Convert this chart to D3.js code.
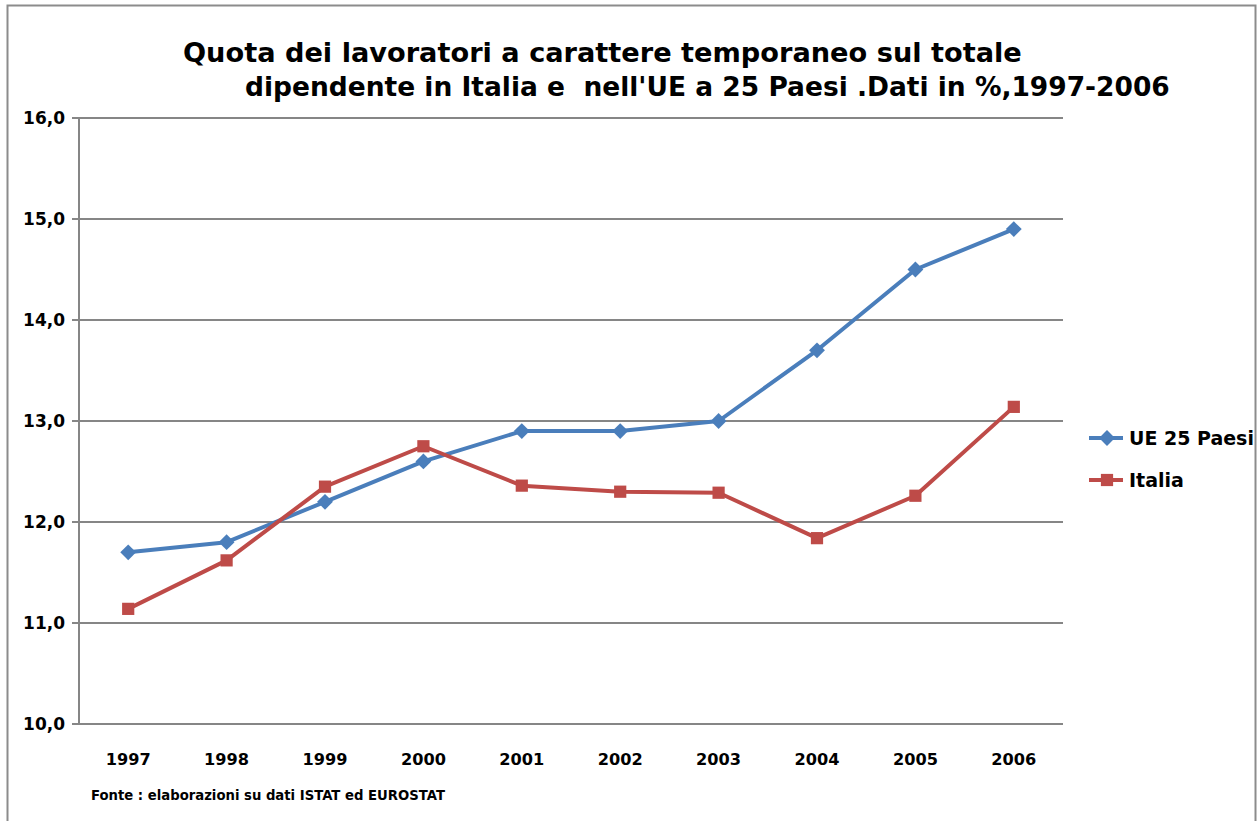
<!DOCTYPE html>
<html>
<head>
<meta charset="utf-8">
<script src="https://cdn.jsdelivr.net/npm/d3@7"></script>
<style>
  body { margin: 0; background: #fff; }
  text { font-family: "DejaVu Sans", sans-serif; font-weight: bold; fill: #000; white-space: pre; }
</style>
</head>
<body>
<svg id="chart"></svg>
<script>
// data
const years = ["1997", "1998", "1999", "2000", "2001", "2002", "2003", "2004", "2005", "2006"];
const ueValues = [11.7, 11.8, 12.2, 12.6, 12.9, 12.9, 13.0, 13.7, 14.5, 14.9];
const italiaValues = [11.14, 11.62, 12.35, 12.75, 12.36, 12.30, 12.29, 11.84, 12.26, 13.14];
const yTicks = [10, 11, 12, 13, 14, 15, 16];
const seriesNames = ["UE 25 Paesi", "Italia"];
const titleLines = ["Quota dei lavoratori a carattere temporaneo sul totale",
  "dipendente in Italia e  nell'UE a 25 Paesi .Dati in %,1997-2006"];
const source = "Fonte : elaborazioni su dati ISTAT ed EUROSTAT";

const width = 1258;
const height = 821;
const blue = "#4a7ebb";
const red = "#be4b48";

const svg = d3.select("#chart")
  .attr("width", width)
  .attr("height", height);

// scale font size so a text node spans the given width
function fitWidth(sel, target) {
  sel.each(function() {
    const node = d3.select(this);
    const size = parseFloat(node.style("font-size"));
    const w = this.getComputedTextLength();
    node.style("font-size", (size * target / w) + "px");
  });
}

// outer frame
svg.append("rect")
  .attr("x", 7.5).attr("y", 5.5)
  .attr("width", 1248).attr("height", 830)
  .attr("fill", "none")
  .attr("stroke", "#8c8c8c")
  .attr("stroke-width", 2);

// scales
const x = d3.scaleBand()
  .domain(years)
  .range([79, 1063]);

const y = d3.scaleLinear()
  .domain([10, 16])
  .range([724, 118]);

// gridlines
svg.append("g")
  .selectAll("line")
  .data(yTicks)
  .join("line")
  .attr("x1", 72)
  .attr("x2", 1063)
  .attr("y1", d => y(d))
  .attr("y2", d => y(d))
  .attr("stroke", "#868686")
  .attr("stroke-width", 2);

// y axis line
svg.append("line")
  .attr("x1", 79).attr("x2", 79)
  .attr("y1", y(16)).attr("y2", y(10))
  .attr("stroke", "#868686")
  .attr("stroke-width", 2);

// y tick labels
svg.append("g")
  .selectAll("text")
  .data(yTicks)
  .join("text")
  .attr("x", 65)
  .attr("y", d => y(d))
  .attr("dy", "0.36em")
  .attr("text-anchor", "end")
  .style("font-size", "17px")
  .text(d => d3.format(".1f")(d).replace(".", ","))
  .call(fitWidth, 42);

// x tick labels
svg.append("g")
  .selectAll("text")
  .data(years)
  .join("text")
  .attr("x", d => x(d) + x.bandwidth() / 2)
  .attr("y", 765)
  .attr("text-anchor", "middle")
  .style("font-size", "18px")
  .text(d => d)
  .call(fitWidth, 45);

// lines
const line = d3.line()
  .x((d, i) => x(years[i]) + x.bandwidth() / 2)
  .y(d => y(d));

const diamond = d3.symbol().type(d3.symbolDiamond2).size(160);
const square = d3.symbol().type(d3.symbolSquare2).size(190);

svg.append("path")
  .datum(ueValues)
  .attr("fill", "none")
  .attr("stroke", blue)
  .attr("stroke-width", 4)
  .attr("stroke-linejoin", "round")
  .attr("d", line);

svg.append("g")
  .selectAll("path")
  .data(ueValues)
  .join("path")
  .attr("transform", (d, i) => `translate(${x(years[i]) + x.bandwidth() / 2},${y(d)})`)
  .attr("fill", blue)
  .attr("d", diamond);

svg.append("path")
  .datum(italiaValues)
  .attr("fill", "none")
  .attr("stroke", red)
  .attr("stroke-width", 4)
  .attr("stroke-linejoin", "round")
  .attr("d", line);

svg.append("g")
  .selectAll("path")
  .data(italiaValues)
  .join("path")
  .attr("transform", (d, i) => `translate(${x(years[i]) + x.bandwidth() / 2},${y(d)})`)
  .attr("fill", red)
  .attr("d", square);

// title
svg.append("text")
  .attr("x", 183)
  .attr("y", 62)
  .style("font-size", "28px")
  .text(titleLines[0])
  .call(fitWidth, 839);

svg.append("text")
  .attr("x", 245)
  .attr("y", 96)
  .style("font-size", "28px")
  .text(titleLines[1])
  .call(fitWidth, 925);

// legend
const legend = svg.append("g")
  .attr("transform", "translate(1089,438)");

const legendItems = legend.selectAll("g")
  .data(seriesNames)
  .join("g")
  .attr("transform", (d, i) => `translate(0,${i * 42})`);

legendItems.append("line")
  .attr("x1", 0).attr("x2", 34)
  .attr("stroke", (d, i) => i === 0 ? blue : red)
  .attr("stroke-width", 4);

legendItems.append("path")
  .attr("transform", "translate(18,0)")
  .attr("fill", (d, i) => i === 0 ? blue : red)
  .attr("d", (d, i) => i === 0 ? diamond() : square());

legendItems.append("text")
  .attr("x", 40)
  .attr("dy", "0.36em")
  .style("font-size", "19px")
  .text(d => d);

legendItems.select("text").filter((d, i) => i === 0).call(fitWidth, 125);
legendItems.select("text").filter((d, i) => i === 1).call(fitWidth, 55);

// source note
svg.append("text")
  .attr("x", 91)
  .attr("y", 800)
  .style("font-size", "12px")
  .text(source)
  .call(fitWidth, 354);
</script>
</body>
</html>
